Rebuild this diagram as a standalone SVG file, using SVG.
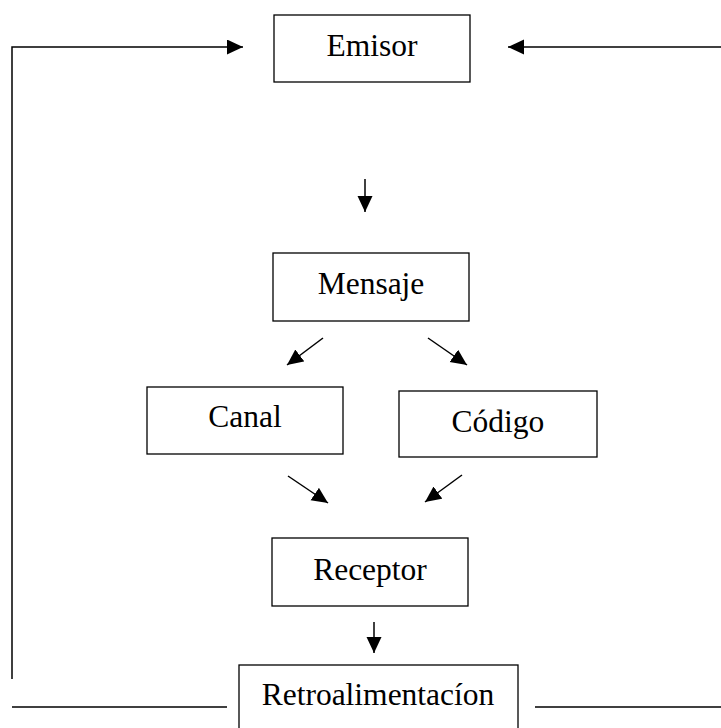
<svg xmlns="http://www.w3.org/2000/svg" width="721" height="728" viewBox="0 0 721 728">
<style>
.box{fill:#fff;stroke:#000;stroke-width:1.3}
.lbl{font-family:"Liberation Serif","Times New Roman",serif;font-size:31.5px;fill:#000;text-anchor:middle}
.c{stroke:#000;stroke-width:1.5;fill:none}
.a{marker-end:url(#ah)}
</style>
<defs>
<marker id="ah" markerUnits="userSpaceOnUse" markerWidth="17" markerHeight="16" refX="16" refY="7.5" orient="auto">
<path d="M0,0 L16,7.5 L0,15 Z" fill="#000"/>
</marker>
</defs>
<g id="connectors">
<polyline class="c a" points="12,679 12,47 243,47"/>
<line class="c a" x1="721" y1="47" x2="508" y2="47"/>
<line class="c a" x1="365" y1="179" x2="365" y2="212"/>
<line class="c a" x1="323" y1="338" x2="287" y2="365"/>
<line class="c a" x1="428" y1="338" x2="467" y2="365"/>
<line class="c a" x1="288" y1="476" x2="328" y2="503"/>
<line class="c a" x1="462" y1="475" x2="425" y2="502"/>
<line class="c a" x1="374" y1="622" x2="374" y2="653"/>
<line class="c" x1="12" y1="707" x2="227" y2="707"/>
<line class="c" x1="535" y1="707" x2="721" y2="707"/>
</g>
<g id="emisor">
<rect class="box" x="274" y="15" width="196" height="67"/>
<text class="lbl" x="372" y="56">Emisor</text>
</g>
<g id="mensaje">
<rect class="box" x="273" y="253" width="196" height="68"/>
<text class="lbl" x="371" y="294">Mensaje</text>
</g>
<g id="canal">
<rect class="box" x="147" y="387" width="196" height="67"/>
<text class="lbl" x="245" y="427">Canal</text>
</g>
<g id="codigo">
<rect class="box" x="399" y="391" width="198" height="66"/>
<text class="lbl" x="498" y="432">Código</text>
</g>
<g id="receptor">
<rect class="box" x="272" y="538" width="196" height="68"/>
<text class="lbl" x="370" y="580">Receptor</text>
</g>
<g id="retroalimentacion">
<rect class="box" x="239" y="665" width="279" height="70"/>
<text class="lbl" x="378" y="705">Retroalimentacíon</text>
</g>
</svg>
